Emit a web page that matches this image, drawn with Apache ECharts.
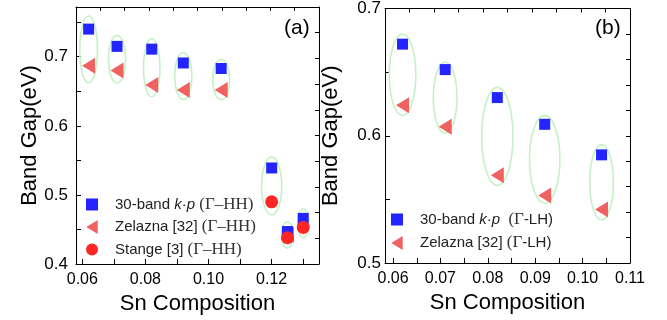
<!DOCTYPE html>
<html>
<head>
<meta charset="utf-8">
<script src="https://cdn.jsdelivr.net/npm/echarts@6/dist/echarts.min.js"></script>
<style>
  html, body { margin: 0; padding: 0; background: #fff; }
  #chart { width: 667px; height: 320px; }
</style>
</head>
<body>
<div id="chart"></div>
<script>
// panel (a): Gamma-HH gaps
const leftX = [0.062, 0.071, 0.082, 0.092, 0.104, 0.120, 0.125, 0.130]
const leftKp = [0.740, 0.715, 0.711, 0.691, 0.683, 0.539, 0.447, 0.466]
const leftZelX = [0.062, 0.071, 0.082, 0.092, 0.104, 0.125]
const leftZel = [0.687, 0.680, 0.659, 0.652, 0.652, 0.442]
const stangeX = [0.120, 0.125, 0.130]
const stange = [0.490, 0.438, 0.453]
// green ellipses grouping each composition
const leftEllHi = [0.759, 0.731, 0.726, 0.706, 0.696, 0.555, 0.461, 0.480]
const leftEllLo = [0.662, 0.662, 0.642, 0.638, 0.638, 0.471, 0.423, 0.438]
const leftEllHw = [0.0028, 0.0027, 0.0026, 0.0027, 0.0027, 0.0032, 0.0019, 0.0018]

// panel (b): Gamma-LH gaps
const rightX = [0.062, 0.071, 0.082, 0.092, 0.104]
const rightKp = [0.672, 0.652, 0.630, 0.609, 0.585]
const rightZel = [0.624, 0.607, 0.569, 0.553, 0.542]
const rightEllHi = [0.680, 0.658, 0.638, 0.616, 0.593]
const rightEllLo = [0.616, 0.602, 0.561, 0.547, 0.534]
const rightEllHw = [0.0028, 0.0025, 0.0033, 0.0032, 0.0025]

const leftXTicks = [0.06, 0.07, 0.08, 0.09, 0.10, 0.11, 0.12, 0.13]
const leftXLabels = [0.06, 0.08, 0.10, 0.12]
const leftYTicks = [0.4, 0.45, 0.5, 0.55, 0.6, 0.65, 0.7, 0.75]
const leftYLabels = [0.4, 0.5, 0.6, 0.7]
const rightXTicks = [0.06, 0.065, 0.07, 0.075, 0.08, 0.085, 0.09, 0.095, 0.10, 0.105, 0.11]
const rightXLabels = [0.06, 0.07, 0.08, 0.09, 0.10, 0.11]
const rightYTicks = [0.5, 0.55, 0.6, 0.65, 0.7]
const rightYLabels = [0.5, 0.6, 0.7]

const SANS = "'Liberation Sans', Arial, sans-serif"
const SERIF = "'Liberation Serif', 'Times New Roman', serif"

const SQUARE = 'path://M0,0H10V10H0Z'
const TRI_LEFT = 'path://M0,8L13,0L13,16Z'
const CIRCLE = 'circle'

const legendText = {
  kpHH: '{g| }30-band {i|k·p} {s|(Γ–HH)}',
  zelHH: '{g| }Zelazna [32] {s|(Γ–HH)}',
  stHH: '{g| }Stange [3] {s|(Γ–HH)}',
  kpLH: '{g| }30-band {i|k·p}  {s|(Γ}-LH)',
  zelLH: '{g| }Zelazna [32] {s|(Γ}-LH)'
}

const chart = echarts.init(document.getElementById('chart'))

const line = { show: true, lineStyle: { color: '#000', width: 1 } }

function valueX(grid, min, max, ticks, labels) {
  return {
    type: 'value', gridIndex: grid, min: min, max: max, position: 'bottom',
    axisLine: line,
    axisTick: { show: true, inside: true, length: 5, customValues: ticks, lineStyle: { color: '#000' } },
    axisLabel: {
      customValues: labels, margin: 8, color: '#000',
      fontFamily: SANS, fontSize: 16,
      formatter: v => v.toFixed(2)
    },
    splitLine: { show: false },
    name: 'Sn Composition', nameLocation: 'middle', nameGap: 22,
    nameTextStyle: { fontFamily: SANS, fontSize: 22, color: '#000' }
  }
}

function valueY(grid, min, max, ticks, labels, gap, margin) {
  return {
    type: 'value', gridIndex: grid, min: min, max: max, position: 'left',
    axisLine: line,
    axisTick: { show: true, inside: true, length: 5, customValues: ticks, lineStyle: { color: '#000' } },
    axisLabel: {
      customValues: labels, margin: margin, color: '#000',
      fontFamily: SANS, fontSize: 17,
      formatter: v => v.toFixed(1)
    },
    splitLine: { show: false },
    name: 'Band Gap(eV)', nameLocation: 'middle', nameGap: gap,
    nameTextStyle: { fontFamily: SANS, fontSize: 22, color: '#000' }
  }
}

// mirror axes on the top / right edges, only ticks
function mirror(kind, grid) {
  return {
    type: 'value', gridIndex: grid, min: 0, max: 10, interval: 1,
    position: kind === 'x' ? 'top' : 'right',
    axisLine: line,
    axisTick: { show: true, inside: true, length: 4, lineStyle: { color: '#000' } },
    axisLabel: { show: false },
    splitLine: { show: false }
  }
}

function ellipseSeries(xi, yi, xs, lo, hi, hw) {
  return {
    type: 'custom', xAxisIndex: xi, yAxisIndex: yi, silent: true, z: 1,
    data: xs.map((x, i) => [x, lo[i], hi[i], hw[i]]),
    renderItem: (params, api) => {
      const top = api.coord([api.value(0), api.value(2)])
      const bot = api.coord([api.value(0), api.value(1)])
      const side = api.coord([api.value(0) + api.value(3), api.value(1)])
      return {
        type: 'ellipse',
        shape: { cx: top[0], cy: (top[1] + bot[1]) / 2, rx: side[0] - top[0], ry: (bot[1] - top[1]) / 2 },
        style: { fill: 'none', stroke: '#c4f2c4', lineWidth: 1.6 }
      }
    }
  }
}

function scatter(name, xi, yi, xs, ys, symbol, size, color, z) {
  return {
    name: name, type: 'scatter', xAxisIndex: xi, yAxisIndex: yi,
    symbol: symbol, symbolSize: size, z: z,
    itemStyle: { color: color, opacity: 1 },
    data: xs.map((x, i) => [x, ys[i]])
  }
}

const legendStyle = {
  fontFamily: SANS, fontSize: 15, color: '#222',
  rich: {
    g: { width: 12 },
    i: { fontFamily: SANS, fontSize: 15, fontStyle: 'italic', color: '#222' },
    s: { fontFamily: SERIF, fontSize: 17, color: '#333' }
  }
}

chart.setOption({
  animation: false,
  grid: [
    { left: 76, top: 7, width: 243, height: 257 },
    { left: 385, top: 8, width: 245, height: 255 }
  ],
  title: [
    { text: '(a)', left: 279, top: 13, textStyle: { fontFamily: SANS, fontSize: 21, fontWeight: 'normal', color: '#000' } },
    { text: '(b)', left: 590, top: 13, textStyle: { fontFamily: SANS, fontSize: 21, fontWeight: 'normal', color: '#000' } }
  ],
  legend: [
    {
      orient: 'vertical', left: 86, top: 196, padding: 0,
      itemWidth: 12, itemHeight: 14, itemGap: 5.5,
      selectedMode: false, textStyle: legendStyle,
      data: ['kpHH', 'zelHH', 'stHH'],
      formatter: n => legendText[n]
    },
    {
      orient: 'vertical', left: 391, top: 211, padding: 0,
      itemWidth: 12, itemHeight: 14, itemGap: 6.5,
      selectedMode: false, textStyle: legendStyle,
      data: ['kpLH', 'zelLH'],
      formatter: n => legendText[n]
    }
  ],
  xAxis: [
    valueX(0, 0.058, 0.135, leftXTicks, leftXLabels),
    mirror('x', 0),
    valueX(1, 0.0583, 0.11, rightXTicks, rightXLabels),
    mirror('x', 1)
  ],
  yAxis: [
    valueY(0, 0.4, 0.772, leftYTicks, leftYLabels, 31, 8),
    mirror('y', 0),
    valueY(1, 0.5, 0.7, rightYTicks, rightYLabels, 43, 4),
    mirror('y', 1)
  ],
  series: [
    ellipseSeries(0, 0, leftX, leftEllLo, leftEllHi, leftEllHw),
    ellipseSeries(2, 2, rightX, rightEllLo, rightEllHi, rightEllHw),
    scatter('zelHH', 0, 0, leftZelX, leftZel, TRI_LEFT, [13, 16], '#f06262', 2),
    scatter('kpHH', 0, 0, leftX, leftKp, SQUARE, 11, '#2424ff', 3),
    scatter('stHH', 0, 0, stangeX, stange, CIRCLE, 13, '#ff2626', 4),
    scatter('zelLH', 2, 2, rightX, rightZel, TRI_LEFT, [13, 16], '#f06262', 2),
    scatter('kpLH', 2, 2, rightX, rightKp, SQUARE, 11, '#2424ff', 3)
  ]
})
</script>
</body>
</html>
